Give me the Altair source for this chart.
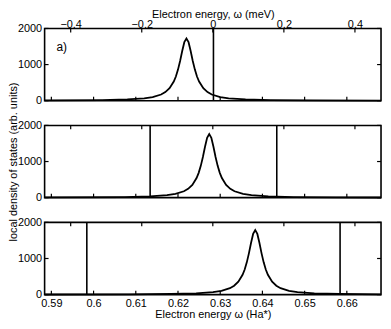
import altair as alt
import pandas as pd

# ---------------- data ----------------
# Panel a): peak near 0.6220 Ha*, reference line at 0.6284 Ha*
omega_a = [0.5884, 0.6020, 0.6080, 0.6120, 0.6140, 0.6160, 0.6170, 0.6180, 0.6190,
           0.6195, 0.6200, 0.6205, 0.6210, 0.6215, 0.6220, 0.6225, 0.6230, 0.6235,
           0.6240, 0.6245, 0.6250, 0.6260, 0.6270, 0.6280, 0.6300, 0.6320, 0.6360,
           0.6420, 0.6520, 0.6681]
dos_a = [6, 17, 34, 66, 100, 170, 237, 345, 530, 670, 860, 1100, 1375, 1620, 1720,
         1620, 1375, 1100, 860, 670, 530, 345, 237, 170, 100, 66, 34, 17, 8, 3]

# Panel b): peak near 0.6274 Ha*
omega_b = [0.5884, 0.6074, 0.6134, 0.6174, 0.6194, 0.6214, 0.6224, 0.6234, 0.6244,
           0.6249, 0.6254, 0.6259, 0.6264, 0.6269, 0.6274, 0.6279, 0.6284, 0.6289,
           0.6294, 0.6299, 0.6304, 0.6314, 0.6324, 0.6334, 0.6354, 0.6374, 0.6414,
           0.6474, 0.6574, 0.6681]
dos_b = [5, 17, 35, 68, 103, 176, 243, 352, 542, 686, 880, 1126, 1408, 1656, 1760,
         1656, 1408, 1126, 880, 686, 542, 352, 243, 176, 103, 68, 35, 17, 8, 4]

# Panel c): peak near 0.6383 Ha*
omega_c = [0.5884, 0.6083, 0.6183, 0.6243, 0.6283, 0.6303, 0.6323, 0.6333, 0.6343,
           0.6353, 0.6358, 0.6363, 0.6368, 0.6373, 0.6378, 0.6383, 0.6388, 0.6393,
           0.6398, 0.6403, 0.6408, 0.6413, 0.6423, 0.6433, 0.6443, 0.6463, 0.6483,
           0.6523, 0.6583, 0.6681]
dos_c = [3, 8, 18, 36, 69, 105, 179, 246, 357, 550, 696, 893, 1142, 1428, 1680, 1785,
         1680, 1428, 1142, 893, 696, 550, 357, 246, 179, 105, 69, 36, 18, 8]

# vertical marker lines (Ha*)
lines_a = [0.6284]
lines_b = [0.6134, 0.6434]
lines_c = [0.5984, 0.6584]

# axes
ha_domain = [0.5884, 0.6681]
ha_ticks = [0.59, 0.60, 0.61, 0.62, 0.63, 0.64, 0.65, 0.66]
mev_domain = [-0.4734, 0.4734]
mev_ticks = [-0.4, -0.2, 0.0, 0.2, 0.4]
y_domain = [0, 2000]
y_ticks = [0, 1000, 2000]

panel_label = "a)"
label_pos = [0.5912, 1490]

W, H = 340, 73
GAP = 25
TICK = 4
FONT = "Liberation Sans"
PAD_L, PAD_T = 37, 19
SVG_W, SVG_H = 379, 313


def panel(omega, dos, lines, bottom_labels, top_labels, ytitle, label=None):
    xs = alt.Scale(domain=ha_domain, nice=False, zero=False)
    ys = alt.Scale(domain=y_domain, nice=False)
    if bottom_labels:
        xaxis = alt.Axis(values=ha_ticks, format=".2~f", labelPadding=12,
                         labelBaseline="alphabetic", title="Electron energy ω (Ha*)",
                         titleY=23, titleBaseline="alphabetic")
    else:
        xaxis = alt.Axis(values=ha_ticks, labels=False, title="")
    if ytitle:
        yaxis = alt.Axis(values=y_ticks, format="d", labelPadding=3, title=ytitle,
                         titleX=-26, titleBaseline="bottom")
    else:
        yaxis = alt.Axis(values=y_ticks, format="d", labelPadding=3, title="")

    def X():
        return alt.X("omega:Q", scale=xs, axis=xaxis)

    def Y():
        return alt.Y("dos:Q", scale=ys, axis=yaxis)

    curve_df = pd.DataFrame({"omega": omega, "dos": dos})
    curve = alt.Chart(curve_df).mark_line(color="black", strokeWidth=1.8).encode(x=X(), y=Y())
    vl = alt.Chart(pd.DataFrame({"omega": lines})).mark_rule(
        color="black", strokeWidth=1.6).encode(x=X())
    bt = alt.Chart(pd.DataFrame({"omega": ha_ticks})).mark_rule(
        color="black", strokeWidth=1.2).encode(
        x=X(), y=alt.value(H), y2=alt.value(H - TICK))
    lt = alt.Chart(pd.DataFrame({"dos": y_ticks})).mark_rule(
        color="black", strokeWidth=1.2).encode(
        y=Y(), x=alt.value(0), x2=alt.value(TICK))
    rt = alt.Chart(pd.DataFrame({"dos": y_ticks})).mark_rule(
        color="black", strokeWidth=1.2).encode(
        y=Y(), x=alt.value(W - TICK), x2=alt.value(W))
    layers = [curve, vl, bt, lt, rt]
    if label:
        txt = alt.Chart(pd.DataFrame({"omega": [label_pos[0]], "dos": [label_pos[1]], "s": [label]})).mark_text(
            align="left", baseline="middle", font=FONT, fontSize=12, color="black").encode(
            x=X(), y=Y(), text="s:N")
        layers.append(txt)
    inner = alt.layer(*layers)

    taxis = alt.Axis(orient="top", values=mev_ticks, format=".1~f", labelPadding=1,
                     labelBaseline="alphabetic",
                     title="Electron energy, ω (meV)", titleY=-11,
                     titleBaseline="alphabetic") if top_labels else None
    tt = alt.Chart(pd.DataFrame({"m": mev_ticks})).mark_rule(
        color="black", strokeWidth=1.2).encode(
        x=alt.X("m:Q", scale=alt.Scale(domain=mev_domain, nice=False, zero=False), axis=taxis),
        y=alt.value(0), y2=alt.value(TICK))
    return alt.layer(inner, tt).resolve_scale(x="independent").properties(width=W, height=H)


p1 = panel(omega_a, dos_a, lines_a, False, True, None, panel_label)
p2 = panel(omega_b, dos_b, lines_b, False, False, "local density of states (arb. units)")
p3 = panel(omega_c, dos_c, lines_c, True, False, None)

chart = alt.vconcat(p1, p2, p3, spacing=GAP, bounds="flush").properties(
    autosize=alt.AutoSizeParams(type="none"),
    padding={"left": PAD_L, "top": PAD_T, "right": SVG_W - PAD_L - W,
             "bottom": SVG_H - PAD_T}
).configure_view(stroke="black", strokeWidth=1.6).configure_axis(
    labelFont=FONT, titleFont=FONT, labelFontSize=11, titleFontSize=11,
    ticks=False, domain=False, grid=False, labelColor="black", titleColor="black",
    titleFontWeight="normal")

chart.save("out.html", embed_options={"renderer": "svg", "actions": False})
